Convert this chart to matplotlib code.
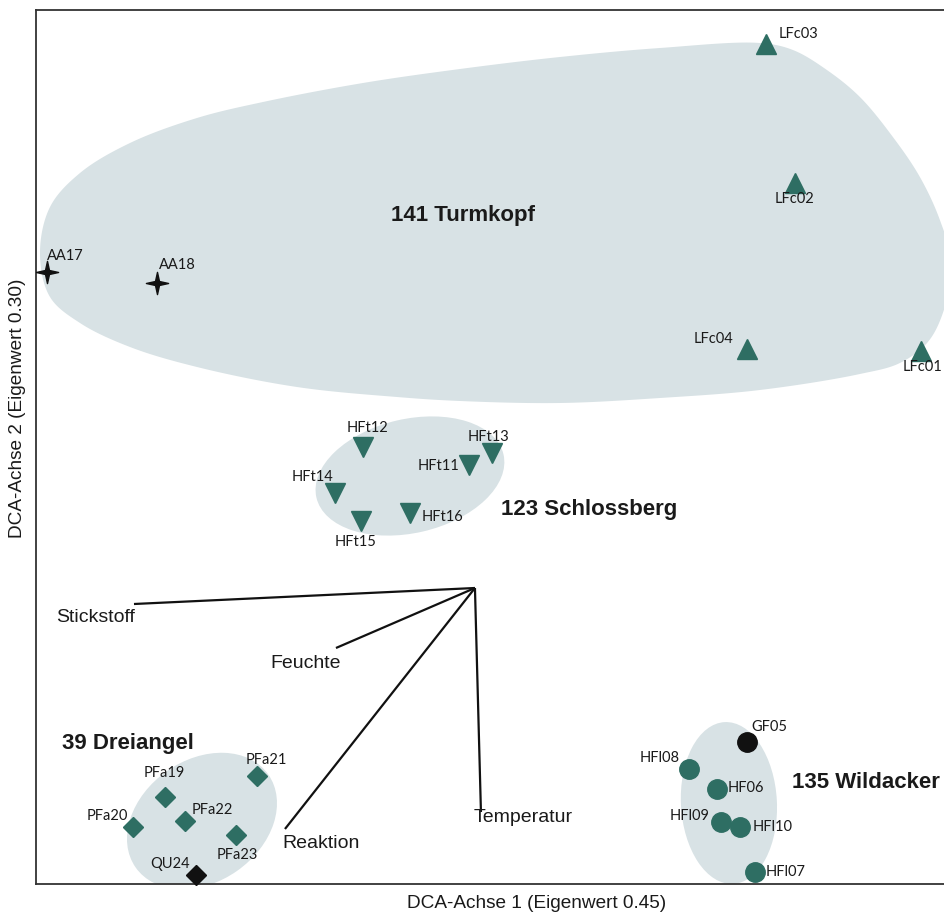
import matplotlib
matplotlib.use("Agg")
import matplotlib.pyplot as plt
import numpy as np
from matplotlib.patches import Ellipse, Polygon
from matplotlib.path import Path

# ---------------- data (DCA scores) ----------------
# Turmkopf (141): AA (stars) and LFc (triangles up)
aa_names = ["AA17", "AA18"]
aa_x = [0.11, 1.21]
aa_y = [6.12, 6.01]
aa_lx = [0.29, 1.41]
aa_ly = [6.28, 6.19]

lfc_names = ["LFc03", "LFc02", "LFc04", "LFc01"]
lfc_x = [7.30, 7.59, 7.11, 8.85]
lfc_y = [8.40, 7.01, 5.35, 5.33]
lfc_lx = [7.63, 7.59, 6.78, 8.87]
lfc_ly = [8.50, 6.85, 5.45, 5.17]

# Schlossberg (123): HFt (triangles down)
hft_names = ["HFt12", "HFt13", "HFt11", "HFt14", "HFt15", "HFt16"]
hft_x = [3.27, 4.56, 4.33, 2.99, 3.25, 3.74]
hft_y = [4.37, 4.31, 4.19, 3.91, 3.63, 3.71]
hft_lx = [3.32, 4.53, 4.03, 2.77, 3.20, 4.07]
hft_ly = [4.56, 4.47, 4.18, 4.07, 3.42, 3.67]

# Dreiangel (39): PFa (diamonds) and QU24 (black diamond)
pfa_names = ["PFa21", "PFa19", "PFa20", "PFa22", "PFa23"]
pfa_x = [2.21, 1.29, 0.97, 1.49, 2.00]
pfa_y = [1.08, 0.87, 0.57, 0.63, 0.49]
pfa_lx = [2.30, 1.28, 0.71, 1.76, 2.01]
pfa_ly = [1.24, 1.11, 0.68, 0.74, 0.29]

qu_names = ["QU24"]
qu_x = [1.60]
qu_y = [0.09]
qu_lx = [1.34]
qu_ly = [0.20]

# Wildacker (135): HF (circles) and GF05 (black circle)
hfl_names = ["HFl08", "HF06", "HFl09", "HFl10", "HFl07"]
hfl_x = [6.53, 6.81, 6.85, 7.04, 7.19]
hfl_y = [1.15, 0.95, 0.62, 0.57, 0.12]
hfl_lx = [6.24, 7.10, 6.54, 7.37, 7.50]
hfl_ly = [1.26, 0.96, 0.68, 0.57, 0.12]

gf_names = ["GF05"]
gf_x = [7.11]
gf_y = [1.42]
gf_lx = [7.33]
gf_ly = [1.57]

# environmental vectors
env_names = ["Stickstoff", "Feuchte", "Reaktion", "Temperatur"]
env_origin = (4.39, 2.96)
env_x = [0.98, 3.00, 2.49, 4.45]
env_y = [2.80, 2.36, 0.55, 0.72]
env_lx = [0.20, 2.34, 2.46, 4.38]
env_ly = [2.67, 2.20, 0.40, 0.66]

# group hulls
grp_names = ["141 Turmkopf", "123 Schlossberg", "39 Dreiangel", "135 Wildacker"]
grp_lx = [4.27, 4.65, 0.26, 7.56]
grp_ly = [6.69, 3.74, 1.41, 1.02]
grp_ha = ["center", "left", "left", "left"]

turm_hull_x = [0.04, 0.14, 0.44, 0.94, 1.61, 2.27, 3.27, 4.24, 5.24, 6.24, 7.24, 7.57,
               7.91, 8.24, 8.57, 8.84, 9.04, 9.16, 9.08, 8.92, 8.64, 8.24, 7.24, 6.24,
               5.24, 4.24, 3.61, 2.61, 1.61, 0.94, 0.44, 0.14]
turm_hull_y = [6.30, 6.77, 7.11, 7.41, 7.66, 7.82, 8.01, 8.15, 8.27, 8.36, 8.41, 8.34,
               8.14, 7.87, 7.47, 7.07, 6.64, 6.19, 5.74, 5.42, 5.21, 5.10, 4.94, 4.86,
               4.81, 4.83, 4.87, 4.97, 5.17, 5.37, 5.61, 5.87]

# ellipses: center x, center y, width, height, angle
ell_cx = [3.74, 1.66, 6.93]
ell_cy = [4.08, 0.63, 0.81]
ell_w = [1.92, 1.62, 0.96]
ell_h = [1.14, 1.22, 1.62]
ell_ang = [13, 35, 3]

# ---------------- styling ----------------
TEAL = "#2e6e63"
FILL = "#d8e2e5"
LBL_FONT = ["Lato", "DejaVu Sans"]
ARIAL = ["Liberation Sans", "DejaVu Sans"]

fig = plt.figure(figsize=(9.44, 9.16), dpi=100)
ax = fig.add_axes([36 / 944, 32 / 916, 1 - 36 / 944 + 0.002, 874 / 916])
ax.set_xlim(0, 9.10)
ax.set_ylim(0, 8.74)
ax.set_xticks([])
ax.set_yticks([])
for s in ["left", "top", "bottom"]:
    ax.spines[s].set_linewidth(1.3)
    ax.spines[s].set_color("#333333")
ax.spines["right"].set_visible(False)


def centripetal_catmull_rom(xs, ys, n=24, alpha=0.5):
    pts = np.column_stack([xs, ys]).astype(float)
    m = len(pts)
    out = []
    for i in range(m):
        p0, p1, p2, p3 = pts[(i - 1) % m], pts[i], pts[(i + 1) % m], pts[(i + 2) % m]
        t0 = 0.0
        t1 = t0 + np.linalg.norm(p1 - p0) ** alpha
        t2 = t1 + np.linalg.norm(p2 - p1) ** alpha
        t3 = t2 + np.linalg.norm(p3 - p2) ** alpha
        t = np.linspace(t1, t2, n, endpoint=False)[:, None]
        a1 = (t1 - t) / (t1 - t0) * p0 + (t - t0) / (t1 - t0) * p1
        a2 = (t2 - t) / (t2 - t1) * p1 + (t - t1) / (t2 - t1) * p2
        a3 = (t3 - t) / (t3 - t2) * p2 + (t - t2) / (t3 - t2) * p3
        b1 = (t2 - t) / (t2 - t0) * a1 + (t - t0) / (t2 - t0) * a2
        b2 = (t3 - t) / (t3 - t1) * a2 + (t - t1) / (t3 - t1) * a3
        c = (t2 - t) / (t2 - t1) * b1 + (t - t1) / (t2 - t1) * b2
        out.append(c)
    return np.vstack(out)


hull = centripetal_catmull_rom(turm_hull_x, turm_hull_y)
ax.add_patch(Polygon(hull, closed=True, facecolor=FILL, edgecolor="none", zorder=1))
for cx, cy, w, h, a in zip(ell_cx, ell_cy, ell_w, ell_h, ell_ang):
    ax.add_patch(Ellipse((cx, cy), w, h, angle=a, facecolor=FILL, edgecolor="none", zorder=1))

# env vectors
for name, ex, ey, lx, ly in zip(env_names, env_x, env_y, env_lx, env_ly):
    ax.plot([env_origin[0], ex], [env_origin[1], ey], color="#111111", lw=1.6,
            solid_capstyle="butt", zorder=2)
    ax.text(lx, ly, name, ha="left", va="center", fontsize=14, family=ARIAL,
            color="#1a1a1a", zorder=4)

# four-pointed star marker
star = Path([(0, 1), (0.18, 0.18), (1, 0), (0.18, -0.18), (0, -1), (-0.18, -0.18),
             (-1, 0), (-0.18, 0.18), (0, 1)],
            [Path.MOVETO] + [Path.LINETO] * 7 + [Path.CLOSEPOLY])

ax.plot(aa_x, aa_y, linestyle="none", marker=star, markersize=16, color="#111111", zorder=3)
ax.plot(lfc_x, lfc_y, linestyle="none", marker="^", markersize=14, color=TEAL, zorder=3)
ax.plot(hft_x, hft_y, linestyle="none", marker="v", markersize=14, color=TEAL, zorder=3)
ax.plot(pfa_x, pfa_y, linestyle="none", marker="D", markersize=10, color=TEAL, zorder=3)
ax.plot(qu_x, qu_y, linestyle="none", marker="D", markersize=10, color="#111111", zorder=3,
        clip_on=False)
ax.plot(hfl_x, hfl_y, linestyle="none", marker="o", markersize=14, color=TEAL, zorder=3)
ax.plot(gf_x, gf_y, linestyle="none", marker="o", markersize=14, color="#111111", zorder=3)

for names, lxs, lys in [(aa_names, aa_lx, aa_ly), (lfc_names, lfc_lx, lfc_ly),
                        (hft_names, hft_lx, hft_ly), (pfa_names, pfa_lx, pfa_ly),
                        (qu_names, qu_lx, qu_ly), (hfl_names, hfl_lx, hfl_ly),
                        (gf_names, gf_lx, gf_ly)]:
    for n, lx, ly in zip(names, lxs, lys):
        ax.text(lx, ly, n, ha="center", va="center", fontsize=10.5, family=LBL_FONT,
                color="#1a1a1a", zorder=4, clip_on=False)

for n, lx, ly, ha in zip(grp_names, grp_lx, grp_ly, grp_ha):
    ax.text(lx, ly, n, ha=ha, va="center", fontsize=16, fontweight="bold", family=ARIAL,
            color="#1a1a1a", zorder=4)

fig.text(537 / 944, 1 - 904 / 916, "DCA-Achse 1 (Eigenwert 0.45)", ha="center", va="center",
         fontsize=13.7, family=ARIAL, color="#1a1a1a")
fig.text(18 / 944, 1 - 408 / 916, "DCA-Achse 2 (Eigenwert 0.30)", ha="center", va="center",
         rotation=90, fontsize=13.7, family=ARIAL, color="#1a1a1a")

fig.savefig("out.png", dpi=100)
